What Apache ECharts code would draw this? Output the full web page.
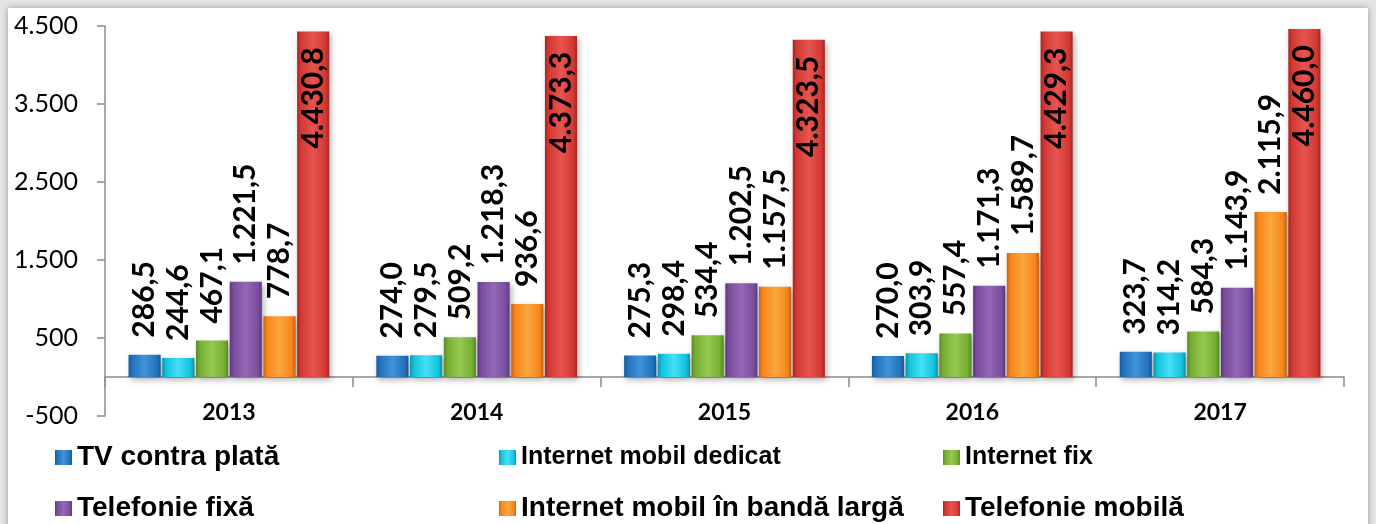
<!DOCTYPE html>
<html>
<head>
<meta charset="utf-8">
<script src="https://cdn.jsdelivr.net/npm/echarts@6/dist/echarts.min.js"></script>
<style>
  html, body { margin: 0; padding: 0; background: #e6e6e6; overflow: hidden; }
  .frame {
    position: absolute; left: 8px; top: 8px; width: 1360px; height: 540px;
    background: #fff; box-shadow: 0 0 7px rgba(0, 0, 0, 0.35);
  }
  #chart { position: absolute; left: 0; top: 0; width: 1376px; height: 524px; }
</style>
</head>
<body>
<div class="frame"></div>
<div id="chart"></div>
<script>
// Data
const years = ['2013', '2014', '2015', '2016', '2017'];
const seriesNames = [
  'TV contra plată',
  'Internet mobil dedicat',
  'Internet fix',
  'Telefonie fixă',
  'Internet mobil în bandă largă',
  'Telefonie mobilă',
];
const tvPlata = [286.5, 274.0, 275.3, 270.0, 323.7];
const internetMobilDedicat = [244.6, 279.5, 298.4, 303.9, 314.2];
const internetFix = [467.1, 509.2, 534.4, 557.4, 584.3];
const telefonieFixa = [1221.5, 1218.3, 1202.5, 1171.3, 1143.9];
const internetBandaLarga = [778.7, 936.6, 1157.5, 1589.7, 2115.9];
const telefonieMobila = [4430.8, 4373.3, 4323.5, 4429.3, 4460.0];
const yTicks = [-500, 500, 1500, 2500, 3500, 4500];

const seriesValues = [tvPlata, internetMobilDedicat, internetFix, telefonieFixa, internetBandaLarga, telefonieMobila];

// Colors: [dark edge, base, highlight]
const palette = [
  ['#155a98', '#2272bd', '#3f93d8'],
  ['#0a93a8', '#12c2dd', '#45e0f5'],
  ['#5a8a25', '#76ad34', '#95c952'],
  ['#5b3a7b', '#7a4d9e', '#9368b6'],
  ['#c7630f', '#f7861a', '#fba640'],
  ['#a42622', '#d33833', '#e65550'],
];

// Legend font sizes differ per entry in the original
const legendSizes = [28, 25, 25, 28, 28, 28];

// Romanian number format: 4.430,8
const fmt = (v, digits) => {
  const parts = Math.abs(v).toFixed(digits).split('.');
  const intPart = parts[0].replace(/\B(?=(\d{3})+(?!\d))/g, '.');
  return (v < 0 ? '-' : '') + intPart + (parts[1] ? ',' + parts[1] : '');
};

const barColor = (c) => new echarts.graphic.LinearGradient(0, 0, 1, 0, [
  { offset: 0, color: c[0] },
  { offset: 0.12, color: c[1] },
  { offset: 0.5, color: c[2] },
  { offset: 0.88, color: c[1] },
  { offset: 1, color: c[0] },
]);

const axisGrey = { color: '#8c8c8c', width: 1.5 };

const chart = echarts.init(document.getElementById('chart'));

const series = seriesNames.map((name, i) => {
  const inside = i === seriesNames.length - 1;
  return {
    name,
    type: 'bar',
    xAxisIndex: 0,
    data: seriesValues[i],
    barGap: '5%',
    barCategoryGap: '19%',
    itemStyle: {
      color: barColor(palette[i]),
      shadowBlur: 6,
      shadowColor: 'rgba(0, 0, 0, 0.3)',
      shadowOffsetX: 2,
      shadowOffsetY: 3,
    },
    label: {
      show: true,
      position: inside ? 'insideTop' : 'top',
      rotate: 90,
      align: inside ? 'right' : 'left',
      verticalAlign: 'middle',
      distance: inside ? 16 : 17,
      fontFamily: 'Lato',
      fontWeight: 'bold',
      fontSize: 30,
      color: '#000',
      formatter: (p) => fmt(p.value, 1),
    },
  };
});

const option = {
  animation: false,
  grid: { left: 105, right: 32, top: 26, bottom: 108 },
  legend: {
    left: 55,
    top: 433,
    width: 1345,
    padding: 0,
    itemWidth: 17,
    itemHeight: 15,
    itemGap: 2,
    icon: 'rect',
    data: seriesNames.map((name, i) => ({
      name,
      textStyle: { fontSize: legendSizes[i] },
    })),
    textStyle: {
      fontFamily: 'Liberation Sans',
      fontWeight: 'bold',
      color: '#000',
      width: 420,
      lineHeight: 49,
    },
  },
  xAxis: [
    {
      // axis line and boundary ticks at zero
      type: 'category',
      data: years,
      axisLine: { onZero: true, lineStyle: axisGrey },
      axisTick: { show: true, length: 10, lineStyle: axisGrey },
      axisLabel: { show: false },
    },
    {
      // year labels along the bottom of the plot
      type: 'category',
      data: years,
      position: 'bottom',
      axisLine: { show: false, onZero: false },
      axisTick: { show: false },
      axisLabel: {
        margin: 0,
        verticalAlign: 'middle',
        fontFamily: 'Lato',
        fontWeight: 'bold',
        fontSize: 23,
        color: '#000',
      },
      offset: -3,
    },
  ],
  yAxis: {
    type: 'value',
    min: -500,
    max: 4500,
    splitLine: { show: false },
    axisLine: { show: true, onZero: false, lineStyle: axisGrey },
    axisTick: { show: true, length: 8, customValues: yTicks, lineStyle: axisGrey },
    axisLabel: {
      margin: 27,
      customValues: yTicks,
      fontFamily: 'Lato',
      fontSize: 25,
      color: '#000',
      formatter: (v) => fmt(v, 0),
    },
  },
  series,
};

chart.setOption(option);
</script>
</body>
</html>
